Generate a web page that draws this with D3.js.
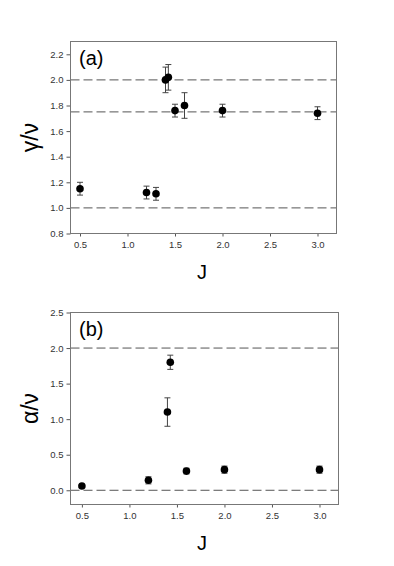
<!DOCTYPE html>
<html>
<head>
<meta charset="utf-8">
<script src="https://cdn.jsdelivr.net/npm/d3@7"></script>
<style>
  body { margin: 0; background: #fff; }
  text { font-family: "Liberation Sans", Arial, sans-serif; }
</style>
</head>
<body>
<svg id="chart" width="394" height="566"></svg>
<script>
// panel (a): gamma/nu
var jA = [0.5, 1.2, 1.3, 1.4, 1.43, 1.5, 1.6, 2.0, 3.0];
var gammaNu = [1.15, 1.12, 1.11, 2.00, 2.02, 1.76, 1.80, 1.76, 1.74];
var gammaErr = [0.05, 0.05, 0.05, 0.10, 0.10, 0.05, 0.10, 0.05, 0.05];
var refA = [2.0, 1.75, 1.0];
var yTicksA = [0.8, 1.0, 1.2, 1.4, 1.6, 1.8, 2.0, 2.2];

// panel (b): alpha/nu
var jB = [0.5, 1.2, 1.4, 1.43, 1.6, 2.0, 3.0];
var alphaNu = [0.06, 0.14, 1.10, 1.80, 0.27, 0.29, 0.29];
var alphaErr = [0.02, 0.05, 0.20, 0.10, 0.04, 0.05, 0.05];
var refB = [2.0, 0.0];
var yTicksB = [0.0, 0.5, 1.0, 1.5, 2.0, 2.5];

var xTicks = [0.5, 1.0, 1.5, 2.0, 2.5, 3.0];

var svg = d3.select("#chart");

function drawPanel(opt) {
    var g = svg.append("g");
    var left = 70.5, right = opt.right;

    var xScale = d3.scaleLinear().domain(opt.xDomain).range([left, right]);
    var yScale = d3.scaleLinear().domain(opt.yDomain).range([opt.bottom, opt.top]);

    // reference dashed lines
    g.selectAll(".ref")
        .data(opt.refs)
        .enter()
        .append("line")
        .attr("x1", left)
        .attr("x2", right)
        .attr("y1", function(d) { return yScale(d); })
        .attr("y2", function(d) { return yScale(d); })
        .style("stroke", "#555")
        .style("stroke-width", 1)
        .style("stroke-dasharray", "9,4");

    // axes
    var xAxis = g.append("g")
        .attr("transform", `translate(0,${opt.bottom})`)
        .call(d3.axisBottom(xScale).tickValues(xTicks).tickFormat(d3.format(".1f")).tickSize(3).tickPadding(5));
    var yAxis = g.append("g")
        .attr("transform", `translate(${left},0)`)
        .call(d3.axisLeft(yScale).tickValues(opt.yTicks).tickFormat(d3.format(".1f")).tickSize(4).tickPadding(3));
    [xAxis, yAxis].forEach(function(a) {
        a.select(".domain").remove();
        a.selectAll("line").style("stroke", "#555");
        a.selectAll("text").style("font-size", "9.5px").style("fill", "#333")
            .style("font-family", "'Liberation Sans', Arial, sans-serif");
    });

    // frame
    g.append("rect")
        .attr("x", left)
        .attr("y", opt.top)
        .attr("width", right - left)
        .attr("height", opt.bottom - opt.top)
        .style("fill", "none")
        .style("stroke", "#777")
        .style("stroke-width", 1);

    // error bars
    var pts = opt.x.map(function(x, i) { return {x: x, y: opt.y[i], e: opt.err[i]}; });
    var eb = g.selectAll(".err").data(pts).enter().append("g");
    eb.append("line")
        .attr("x1", function(d) { return xScale(d.x); })
        .attr("x2", function(d) { return xScale(d.x); })
        .attr("y1", function(d) { return yScale(d.y - d.e); })
        .attr("y2", function(d) { return yScale(d.y + d.e); })
        .style("stroke", "#444");
    [-1, 1].forEach(function(s) {
        eb.append("line")
            .attr("x1", function(d) { return xScale(d.x) - 3; })
            .attr("x2", function(d) { return xScale(d.x) + 3; })
            .attr("y1", function(d) { return yScale(d.y + s * d.e); })
            .attr("y2", function(d) { return yScale(d.y + s * d.e); })
            .style("stroke", "#444");
    });

    // points
    g.selectAll(".dot")
        .data(pts)
        .enter()
        .append("circle")
        .attr("cx", function(d) { return xScale(d.x); })
        .attr("cy", function(d) { return yScale(d.y); })
        .attr("r", 3.8)
        .style("fill", "#000");

    // labels
    g.append("text")
        .attr("x", 79)
        .attr("y", opt.top + 23)
        .text(opt.tag)
        .style("font-size", "20px");

    g.append("text")
        .attr("text-anchor", "middle")
        .attr("x", 202)
        .attr("y", opt.bottom + 45)
        .text("J")
        .style("font-size", "20px");

    g.append("text")
        .attr("text-anchor", "middle")
        .attr("transform", `translate(38,${(opt.top + opt.bottom) / 2}) rotate(-90)`)
        .text(opt.ylabel)
        .style("font-size", "23px");
}

drawPanel({
    x: jA, y: gammaNu, err: gammaErr, refs: refA, yTicks: yTicksA,
    xDomain: [0.4, 3.2], yDomain: [0.8, 2.3],
    top: 41.5, bottom: 233.5, right: 336.5,
    tag: "(a)", ylabel: "γ/ν"
});

drawPanel({
    x: jB, y: alphaNu, err: alphaErr, refs: refB, yTicks: yTicksB,
    xDomain: [0.38, 3.2], yDomain: [-0.2, 2.5],
    top: 312.5, bottom: 504.5, right: 338.5,
    tag: "(b)", ylabel: "α/ν"
});
</script>
</body>
</html>
